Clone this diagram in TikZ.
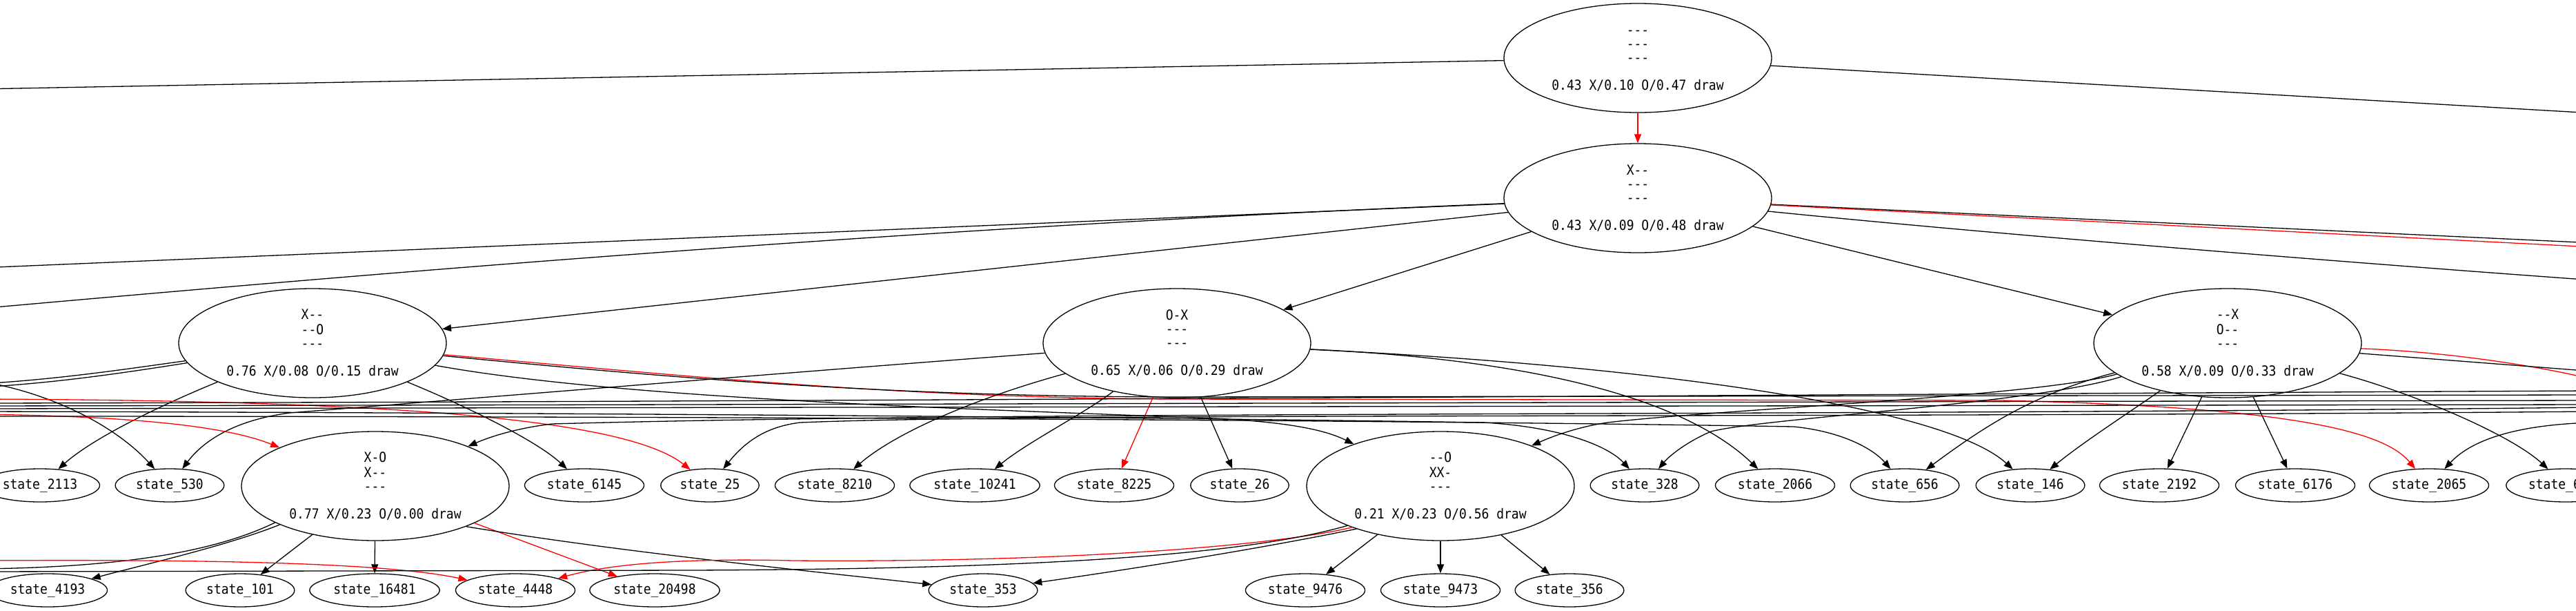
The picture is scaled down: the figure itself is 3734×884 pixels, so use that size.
\documentclass[tikz,border=0pt]{standalone}
\usepackage{fontspec}
\setmonofont{DejaVu Sans Mono}[FakeStretch=0.9]
\usetikzlibrary{shapes.geometric,arrows.meta}
\newcommand\brd[4]{\strut#1\\#2\\#3\\\mbox{}\\#4}
\begin{document}
\begin{tikzpicture}[x=1pt,y=-1pt,
  every node/.style={font=\ttfamily\fontsize{20pt}{20pt}\selectfont},
  big/.style={ellipse,draw,line width=1.3pt,minimum width=388pt,minimum height=158pt,inner sep=0pt,align=center},
  st/.style={ellipse,draw,line width=1.3pt,minimum height=48pt,inner xsep=7pt,inner ysep=0pt},
  ln/.style={line width=1.3pt},
  arr/.style={ln,-{Triangle[length=13pt,width=10pt]}}]
\useasboundingbox (0,0) rectangle (3734,884);
\clip (0,0) rectangle (3734,884);
% big nodes
\node[big] (root) at (2374,84) {\brd{---}{---}{---}{0.43 X/0.10 O/0.47 draw}};
\node[big] (L1) at (2374,287) {\brd{X--}{---}{---}{0.43 X/0.09 O/0.48 draw}};
\node[big] (L2a) at (453,497) {\brd{X--}{--O}{---}{0.76 X/0.08 O/0.15 draw}};
\node[big] (L2b) at (1706,497) {\brd{O-X}{---}{---}{0.65 X/0.06 O/0.29 draw}};
\node[big] (L2c) at (3229,497) {\brd{--X}{O--}{---}{0.58 X/0.09 O/0.33 draw}};
\node[big] (L3a) at (544,704) {\brd{X-O}{X--}{---}{0.77 X/0.23 O/0.00 draw}};
\node[big] (L3b) at (2088,704) {\brd{--O}{XX-}{---}{0.21 X/0.23 O/0.56 draw}};
% state row 1
\node[st] (s2113) at (58,703) {state\_2113};
\node[st] (s530) at (246,703) {state\_530};
\node[st] (s6145) at (847,703) {state\_6145};
\node[st] (s25) at (1029,703) {state\_25};
\node[st] (s8210) at (1210,703) {state\_8210};
\node[st] (s10241) at (1413,703) {state\_10241};
\node[st] (s8225) at (1615,703) {state\_8225};
\node[st] (s26) at (1797,703) {state\_26};
\node[st] (s328) at (2384,703) {state\_328};
\node[st] (s2066) at (2573,703) {state\_2066};
\node[st] (s656) at (2761,703) {state\_656};
\node[st] (s146) at (2943,703) {state\_146};
\node[st] (s2192) at (3130,703) {state\_2192};
\node[st] (s6176) at (3327,703) {state\_6176};
\node[st] (s2065) at (3521,703) {state\_2065};
\node[st] (s6x) at (3719,703) {\makebox[108pt][l]{state\_6}};
% state row 2
\node[st] (s4193) at (69,855) {state\_4193};
\node[st] (s101) at (348,855) {state\_101};
\node[st] (s16481) at (543,855) {state\_16481};
\node[st] (s4448) at (747,855) {state\_4448};
\node[st] (s20498) at (949,855) {state\_20498};
\node[st] (s353) at (1425,855) {state\_353};
\node[st] (s9476) at (1892,855) {state\_9476};
\node[st] (s9473) at (2088,855) {state\_9473};
\node[st] (s356) at (2275,855) {state\_356};
% free ends outside the frame
\coordinate (oL1) at (-30,129);
\coordinate (oR1) at (3760,164);
\coordinate (oL2) at (-30,388);
\coordinate (oL3) at (-30,447);
\coordinate (oR2) at (3760,352);
\coordinate (oR3) at (3760,358);
\coordinate (oR4) at (3760,406);
\coordinate (oL4) at (-30,556);
\coordinate (oL5) at (-30,561);
\coordinate (oL6) at (-30,824);
\coordinate (oL7) at (-30,812);
\coordinate (oL8) at (-30,828);
\coordinate (oL9) at (-30,552);
\coordinate (oL10) at (-30,600);
\coordinate (oL11) at (-30,578);
\coordinate (oL12) at (-30,584);
\coordinate (oL13) at (-30,588);
\coordinate (oL14) at (-30,592);
\coordinate (oL15) at (-30,596);
\coordinate (oL16) at (-30,603);
\coordinate (oR5) at (3760,550);
\coordinate (oR6) at (3760,538);
\coordinate (oR7) at (3760,612);
\coordinate (oR8) at (3760,566);
\coordinate (oR9) at (3760,580);
\coordinate (oR10) at (3760,586);
\coordinate (oRb) at (3760,572);
\coordinate (oRc) at (3760,590);
\coordinate (oRd) at (3760,596);
% root
\draw[arr,red] (root) -- (L1);
\draw[ln] (root) -- (oL1);
\draw[ln] (root) -- (oR1);
% L1
\draw[arr] (L1) -- (L2a);
\draw[arr] (L1) -- (L2b);
\draw[arr] (L1) -- (L2c);
\draw[ln] (L1) -- (oL2);
\draw[ln] (L1) .. controls (1300,330) and (500,400) .. (oL3);
\draw[ln] (L1) -- (oR2);
\draw[ln,red] (L1) -- (oR3);
\draw[ln] (L1) .. controls (2900,340) and (3400,380) .. (oR4);
% L2a
\draw[arr] (L2a) .. controls (250,580) and (140,630) .. (s2113);
\draw[ln] (L2a) .. controls (180,535) and (80,550) .. (oL4);
\draw[ln] (L2a) .. controls (180,540) and (80,555) .. (oL5);
\draw[arr] (L2a) .. controls (680,590) and (780,640) .. (s6145);
\draw[arr,red] (L2a) .. controls (1000,545) and (1300,576) .. (1700,578) -- (2900,580) .. controls (3350,590) and (3460,630) .. (s2065);
\draw[ln] (L2a) .. controls (1000,550) and (1300,574) .. (1700,575) -- (oRb);
\draw[arr] (L2a) .. controls (900,578) and (1400,592) .. (1760,606) .. controls (1880,612) and (1925,625) .. (L3b);
% L2b
\draw[arr] (L2b) .. controls (1200,535) and (750,572) .. (420,598) .. controls (330,610) and (290,645) .. (s530);
\draw[arr] (L2b) .. controls (1420,575) and (1300,625) .. (s8210);
\draw[arr] (L2b) .. controls (1570,600) and (1490,640) .. (s10241);
\draw[arr,red] (L2b) -- (s8225);
\draw[arr] (L2b) -- (s26);
\draw[arr] (L2b) .. controls (2250,522) and (2450,585) .. (s2066);
\draw[arr] (L2b) .. controls (2400,530) and (2820,590) .. (s146);
% L2c
\draw[arr] (L2c) .. controls (2950,570) and (2880,615) .. (s656);
\draw[arr] (L2c) .. controls (3090,595) and (3020,640) .. (s146);
\draw[arr] (L2c) -- (s2192);
\draw[arr] (L2c) -- (s6176);
\draw[arr] (L2c) .. controls (3500,570) and (3640,630) .. (s6x);
\draw[ln,red] (L2c) .. controls (3550,510) and (3680,530) .. (oR5);
\draw[ln] (L2c) -- (oR6);
\draw[arr] (L2c) .. controls (2950,575) and (2500,592) .. (2330,612) .. controls (2290,618) and (2255,630) .. (L3b);
\draw[arr] (L2c) .. controls (2950,585) and (2560,605) .. (2480,625) .. controls (2445,640) and (2420,660) .. (s328);
% edges from off-frame nodes
\draw[arr] (oL9) .. controls (80,570) and (170,620) .. (s530);
\draw[arr,red] (oL10) .. controls (200,603) and (330,618) .. (L3a);
\draw[arr,red] (oL11) .. controls (500,580) and (900,600) .. (s25);
\draw[arr] (oRc) .. controls (2600,603) and (1500,595) .. (800,614) .. controls (750,620) and (712,632) .. (L3a);
\draw[arr] (oRd) .. controls (2600,606) and (1500,598) .. (1160,612) .. controls (1110,618) and (1080,640) .. (s25);
\draw[arr] (oR7) .. controls (3640,615) and (3580,640) .. (s2065);
\draw[arr] (oL15) .. controls (900,598) and (1700,605) .. (2150,612) .. controls (2260,618) and (2330,645) .. (s328);
\draw[arr] (oL16) .. controls (1000,603) and (2000,608) .. (2600,618) .. controls (2670,625) and (2715,650) .. (s656);
\draw[ln] (oL12) .. controls (1200,582) and (2500,572) .. (oR8);
\draw[ln] (oL13) .. controls (1200,586) and (2500,582) .. (oR9);
\draw[ln] (oL14) .. controls (1200,590) and (2500,588) .. (oR10);
% L3a
\draw[arr] (L3a.202) .. controls (330,790) and (220,815) .. (s4193);
\draw[ln] (L3a.200) .. controls (300,805) and (150,822) .. (oL6);
\draw[arr] (L3a) -- (s101);
\draw[arr] (L3a) -- (s16481);
\draw[arr,red] (L3a) -- (s20498);
\draw[arr] (L3a.-24) .. controls (900,800) and (1200,830) .. (s353);
\draw[arr,red] (oL7) .. controls (300,810) and (560,815) .. (s4448);
% L3b
\draw[arr,red] (L3b.205) .. controls (1850,790) and (1550,815) .. (1150,812) .. controls (980,808) and (880,818) .. (s4448);
\draw[ln] (L3b.203) .. controls (1800,805) and (1500,824) .. (1000,826) -- (oL8);
\draw[arr] (L3b.207) .. controls (1800,800) and (1600,830) .. (s353);
\draw[arr] (L3b) -- (s9476);
\draw[arr] (L3b) -- (s9473);
\draw[arr] (L3b) -- (s356);
\end{tikzpicture}
\end{document}
